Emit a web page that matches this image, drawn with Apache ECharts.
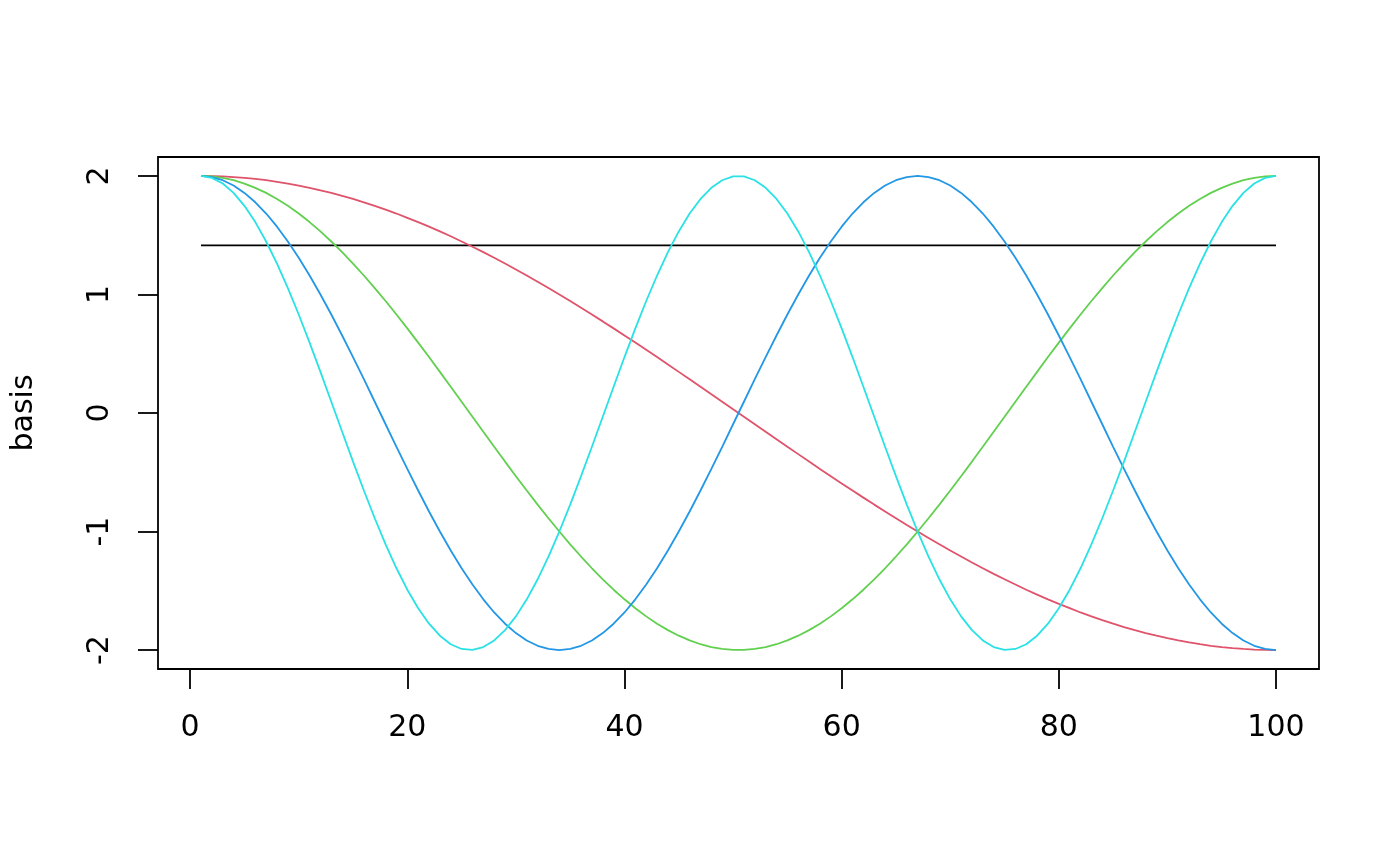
<!DOCTYPE html>
<html>
<head>
<meta charset="utf-8">
<script src="https://cdn.jsdelivr.net/npm/echarts@6/dist/echarts.min.js"></script>
<style>html,body{margin:0;padding:0;background:#fff;}#c{width:1400px;height:866px;}</style>
</head>
<body>
<div id="c"></div>
<script>
const xTicks = [0, 20, 40, 60, 80, 100];
const yTicks = [-2, -1, 0, 1, 2];
const yTitle = 'basis';

const black = [1.414,1.414,1.414,1.414,1.414,1.414,1.414,1.414,1.414,1.414,
1.414,1.414,1.414,1.414,1.414,1.414,1.414,1.414,1.414,1.414,
1.414,1.414,1.414,1.414,1.414,1.414,1.414,1.414,1.414,1.414,
1.414,1.414,1.414,1.414,1.414,1.414,1.414,1.414,1.414,1.414,
1.414,1.414,1.414,1.414,1.414,1.414,1.414,1.414,1.414,1.414,
1.414,1.414,1.414,1.414,1.414,1.414,1.414,1.414,1.414,1.414,
1.414,1.414,1.414,1.414,1.414,1.414,1.414,1.414,1.414,1.414,
1.414,1.414,1.414,1.414,1.414,1.414,1.414,1.414,1.414,1.414,
1.414,1.414,1.414,1.414,1.414,1.414,1.414,1.414,1.414,1.414,
1.414,1.414,1.414,1.414,1.414,1.414,1.414,1.414,1.414,1.414];

const red = [2.000,1.999,1.996,1.991,1.984,1.975,1.964,1.951,1.936,1.919,
1.900,1.879,1.857,1.832,1.806,1.778,1.748,1.716,1.683,1.647,
1.611,1.572,1.532,1.491,1.447,1.403,1.357,1.310,1.261,1.211,
1.160,1.108,1.054,1.000,0.945,0.888,0.831,0.773,0.714,0.654,
0.594,0.533,0.472,0.410,0.347,0.285,0.222,0.158,0.095,0.032,
-0.032,-0.095,-0.158,-0.222,-0.285,-0.347,-0.410,-0.472,-0.533,-0.594,
-0.654,-0.714,-0.773,-0.831,-0.888,-0.945,-1.000,-1.054,-1.108,-1.160,
-1.211,-1.261,-1.310,-1.357,-1.403,-1.447,-1.491,-1.532,-1.572,-1.611,
-1.647,-1.683,-1.716,-1.748,-1.778,-1.806,-1.832,-1.857,-1.879,-1.900,
-1.919,-1.936,-1.951,-1.964,-1.975,-1.984,-1.991,-1.996,-1.999,-2.000];

const green = [2.000,1.996,1.984,1.964,1.936,1.900,1.857,1.806,1.748,1.683,
1.611,1.532,1.447,1.357,1.261,1.160,1.054,0.945,0.831,0.714,
0.594,0.472,0.347,0.222,0.095,-0.032,-0.158,-0.285,-0.410,-0.533,
-0.654,-0.773,-0.888,-1.000,-1.108,-1.211,-1.310,-1.403,-1.491,-1.572,
-1.647,-1.716,-1.778,-1.832,-1.879,-1.919,-1.951,-1.975,-1.991,-1.999,
-1.999,-1.991,-1.975,-1.951,-1.919,-1.879,-1.832,-1.778,-1.716,-1.647,
-1.572,-1.491,-1.403,-1.310,-1.211,-1.108,-1.000,-0.888,-0.773,-0.654,
-0.533,-0.410,-0.285,-0.158,-0.032,0.095,0.222,0.347,0.472,0.594,
0.714,0.831,0.945,1.054,1.160,1.261,1.357,1.447,1.532,1.611,
1.683,1.748,1.806,1.857,1.900,1.936,1.964,1.984,1.996,2.000];

const blue = [2.000,1.991,1.964,1.919,1.857,1.778,1.683,1.572,1.447,1.310,
1.160,1.000,0.831,0.654,0.472,0.285,0.095,-0.095,-0.285,-0.472,
-0.654,-0.831,-1.000,-1.160,-1.310,-1.447,-1.572,-1.683,-1.778,-1.857,
-1.919,-1.964,-1.991,-2.000,-1.991,-1.964,-1.919,-1.857,-1.778,-1.683,
-1.572,-1.447,-1.310,-1.160,-1.000,-0.831,-0.654,-0.472,-0.285,-0.095,
0.095,0.285,0.472,0.654,0.831,1.000,1.160,1.310,1.447,1.572,
1.683,1.778,1.857,1.919,1.964,1.991,2.000,1.991,1.964,1.919,
1.857,1.778,1.683,1.572,1.447,1.310,1.160,1.000,0.831,0.654,
0.472,0.285,0.095,-0.095,-0.285,-0.472,-0.654,-0.831,-1.000,-1.160,
-1.310,-1.447,-1.572,-1.683,-1.778,-1.857,-1.919,-1.964,-1.991,-2.000];

const cyan = [2.000,1.984,1.936,1.857,1.748,1.611,1.447,1.261,1.054,0.831,
0.594,0.347,0.095,-0.158,-0.410,-0.654,-0.888,-1.108,-1.310,-1.491,
-1.647,-1.778,-1.879,-1.951,-1.991,-1.999,-1.975,-1.919,-1.832,-1.716,
-1.572,-1.403,-1.211,-1.000,-0.773,-0.533,-0.285,-0.032,0.222,0.472,
0.714,0.945,1.160,1.357,1.532,1.683,1.806,1.900,1.964,1.996,
1.996,1.964,1.900,1.806,1.683,1.532,1.357,1.160,0.945,0.714,
0.472,0.222,-0.032,-0.285,-0.533,-0.773,-1.000,-1.211,-1.403,-1.572,
-1.716,-1.832,-1.919,-1.975,-1.999,-1.991,-1.951,-1.879,-1.778,-1.647,
-1.491,-1.310,-1.108,-0.888,-0.654,-0.410,-0.158,0.095,0.347,0.594,
0.831,1.054,1.261,1.447,1.611,1.748,1.857,1.936,1.984,2.000];

const seriesList = [
  {vals: black, color: '#000000'},
  {vals: red, color: '#DF536B'},
  {vals: green, color: '#61D04F'},
  {vals: blue, color: '#2297E6'},
  {vals: cyan, color: '#28E2E5'}
];

const FONT = 'DejaVu Sans';
const chart = echarts.init(document.getElementById('c'), null, {renderer: 'canvas'});
chart.setOption({
  animation: false,
  backgroundColor: '#ffffff',
  grid: {left: 158, right: 81, top: 157, bottom: 197, show: true, borderColor: '#000', borderWidth: 1.8, backgroundColor: 'transparent'},
  xAxis: {
    type: 'value', min: -2.96, max: 103.96,
    axisLine: {show: false, onZero: false},
    splitLine: {show: false},
    axisTick: {show: true, length: 20, inside: false, customValues: xTicks, lineStyle: {color: '#000', width: 1.8}},
    axisLabel: {show: true, customValues: xTicks, margin: 44, fontFamily: FONT, fontSize: 30, color: '#000', showMinLabel: true, showMaxLabel: true}
  },
  yAxis: {
    type: 'value', min: -2.16, max: 2.16,
    axisLine: {show: false, onZero: false},
    splitLine: {show: false},
    axisTick: {show: true, length: 20, inside: false, customValues: yTicks, lineStyle: {color: '#000', width: 1.8}},
    axisLabel: {show: true, customValues: yTicks, rotate: 90, margin: 43, fontFamily: FONT, fontSize: 30, color: '#000', showMinLabel: true, showMaxLabel: true}
  },
  graphic: [{
    type: 'text', x: 24, y: 413, rotation: Math.PI / 2,
    style: {text: yTitle, font: '30px "DejaVu Sans"', fill: '#000', textAlign: 'center', textVerticalAlign: 'middle'}
  }],
  series: seriesList.map(s => ({
    type: 'line',
    data: s.vals.map((v, i) => [i + 1, v]),
    showSymbol: false, symbol: 'none',
    lineStyle: {color: s.color, width: 1.8},
    silent: true
  }))
});
</script>
</body>
</html>
